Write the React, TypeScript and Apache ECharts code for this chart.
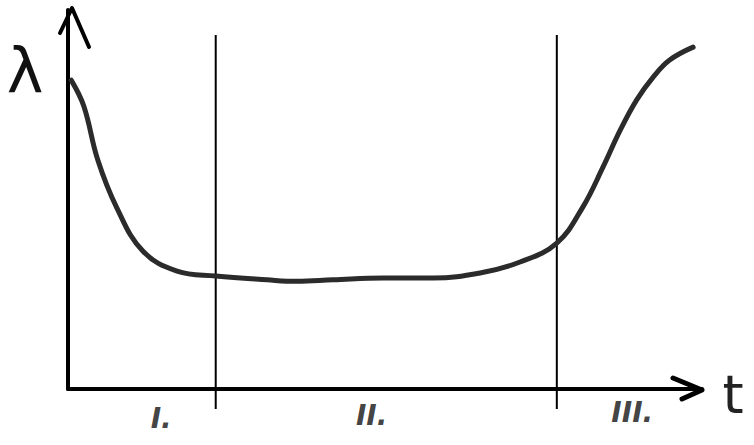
import React, { useEffect, useRef } from "react";
import * as echarts from "echarts";

// Hazard rate curve (bathtub): [t, λ] in a 0–100 frame
const curveT = [0.5, 2.5, 4.7, 7.7, 11.8, 17.2, 23.3, 31.4, 36.1, 41.8, 49.7, 57.6, 65.0, 71.3, 77.1, 81.2, 84.4, 87.1, 89.7, 92.3, 94.9, 98.6];
const curveL = [81.5, 74.6, 60.4, 47.8, 36.4, 31.1, 29.8, 28.8, 28.4, 28.8, 29.3, 29.3, 30.6, 33.5, 38.5, 48.0, 58.6, 68.3, 76.3, 82.3, 86.8, 90.2];

// Phase boundaries (t) and the span of each divider line (λ)
const boundaries = [23.3, 77.1];
const dividerSpan = [-5.3, 93.4];

// Phase labels and their positions
const phaseLabels = ["I.", "II.", "III."];
const phaseT = [14.7, 47.9, 89.0];
const phaseL = [-7.7, -7.1, -6.1];

const yName = "λ";
const xName = "t";

export default function App() {
  const ref = useRef<HTMLDivElement>(null);
  useEffect(() => {
    if (!ref.current) return;
    const chart = echarts.init(ref.current, null, { renderer: "svg" });
    const axisCommon = {
      type: "value" as const,
      min: 0,
      max: 100,
      axisLine: { show: true, onZero: false, lineStyle: { color: "#000", width: 4 } },
      axisTick: { show: false },
      axisLabel: { show: false },
      splitLine: { show: false },
    };
    chart.setOption({
      animation: false,
      backgroundColor: "#fff",
      grid: { left: 68, top: 10, width: 634, height: 379 },
      xAxis: axisCommon,
      yAxis: axisCommon,
      series: [
        ...boundaries.map((b) => ({
          type: "line",
          data: dividerSpan.map((v) => [b, v]),
          clip: false,
          showSymbol: false,
          lineStyle: { color: "#000", width: 2 },
          z: 2,
        })),
        {
          type: "line",
          data: curveT.map((t, i) => [t, curveL[i]]),
          smooth: 0.4,
          showSymbol: false,
          clip: false,
          lineStyle: { color: "#2b2b2b", width: 5, cap: "round" },
          z: 3,
        },
        {
          type: "scatter",
          data: phaseT.map((t, i) => [t, phaseL[i]]),
          symbolSize: 0,
          clip: false,
          label: {
            show: true,
            position: "inside",
            formatter: (p: any) => phaseLabels[p.dataIndex],
            fontFamily: "DejaVu Sans",
            fontStyle: "italic",
            fontWeight: "bold",
            fontSize: 28,
            color: "#111",
          },
        },
      ],
      graphic: [
        {
          type: "polyline",
          shape: { points: [[60, 33], [72, 8], [89, 47]] },
          style: { stroke: "#000", lineWidth: 4, fill: null, lineCap: "round", lineJoin: "round" },
        },
        {
          type: "polyline",
          shape: { points: [[673, 378], [702, 390], [682, 399]] },
          style: { stroke: "#000", lineWidth: 5, fill: null, lineCap: "round", lineJoin: "round" },
        },
        {
          type: "text",
          x: 25,
          y: 70,
          style: {
            text: yName,
            fontFamily: "DejaVu Sans",
            fontSize: 62,
            fill: "#111",
            align: "center",
            verticalAlign: "middle",
          },
        },
        {
          type: "text",
          x: 733,
          y: 394,
          style: {
            text: xName,
            fontFamily: "DejaVu Sans",
            fontSize: 54,
            fill: "#222",
            align: "center",
            verticalAlign: "middle",
          },
        },
      ],
    });
    return () => chart.dispose();
  }, []);
  return (
    <div
      ref={ref}
      style={{ position: "absolute", left: 0, top: 0, width: 754, height: 445 }}
    />
  );
}
